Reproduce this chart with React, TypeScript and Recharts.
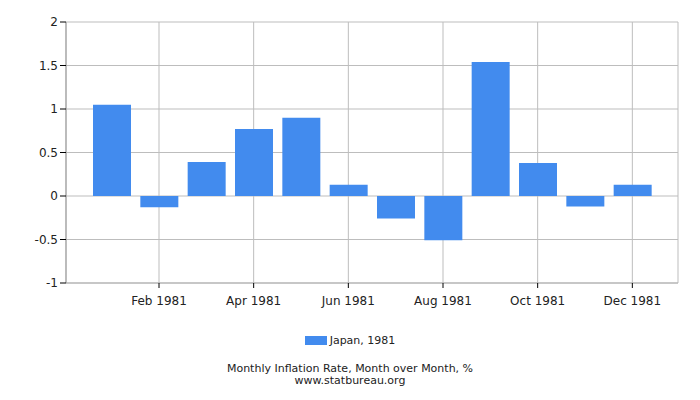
import { BarChart, Bar, XAxis, YAxis, CartesianGrid, Legend } from "recharts";

const months = [
  "Jan 1981", "Feb 1981", "Mar 1981", "Apr 1981", "May 1981", "Jun 1981",
  "Jul 1981", "Aug 1981", "Sep 1981", "Oct 1981", "Nov 1981", "Dec 1981",
];
const japan = [1.05, -0.13, 0.39, 0.77, 0.9, 0.13, -0.26, -0.51, 1.54, 0.38, -0.12, 0.13];
const xTicks = ["Feb 1981", "Apr 1981", "Jun 1981", "Aug 1981", "Oct 1981", "Dec 1981"];
const yTicks = [-1, -0.5, 0, 0.5, 1, 1.5, 2];

const FONT = "'DejaVu Sans', Verdana, sans-serif";
const BLUE = "#428bee";

const LegendBox = () => (
  <div style={{ display: "flex", justifyContent: "center", alignItems: "center", fontSize: 11, color: "#222" }}>
    <span style={{ display: "inline-block", width: 22, height: 9, background: BLUE, marginRight: 3 }} />
    <span>Japan, 1981</span>
  </div>
);

export default function App() {
  const data = months.map((m, i) => ({ month: m, value: japan[i] }));

  return (
    <div style={{ position: "absolute", left: 0, top: 0, width: 700, height: 400, background: "#fff", fontFamily: FONT }}>
      <BarChart
        width={700}
        height={400}
        data={data}
        margin={{ top: 22, right: 22, bottom: 87, left: 10 }}
        style={{ fontFamily: FONT }}
      >
        <CartesianGrid stroke="#bdbdbd" strokeWidth={1} />
        <XAxis
          dataKey="month"
          ticks={xTicks}
          interval={0}
          height={30}
          padding={{ left: 22, right: 22 }}
          tick={{ fill: "#222", fontSize: 12 }}
          tickSize={5}
          tickMargin={8}
          axisLine={{ stroke: "#b0b0b0" }}
          tickLine={{ stroke: "#000" }}
        />
        <YAxis
          domain={[-1, 2]}
          ticks={yTicks}
          width={56}
          tick={{ fill: "#222", fontSize: 12 }}
          tickSize={6}
          tickMargin={2}
          axisLine={{ stroke: "#999" }}
          tickLine={{ stroke: "#000" }}
        />
        <YAxis
          yAxisId="r"
          orientation="right"
          domain={[-1, 2]}
          width={0}
          tick={false}
          tickLine={false}
          axisLine={{ stroke: "#c8c8c8" }}
        />
        <Bar dataKey="value" fill={BLUE} barSize={38} isAnimationActive={false} />
        <Legend
          content={<LegendBox />}
          layout="horizontal"
          verticalAlign="middle"
          wrapperStyle={{ top: 334, left: 0, width: 700 }}
        />
      </BarChart>
      <div
        style={{
          position: "absolute",
          left: 0,
          top: 363,
          width: 700,
          textAlign: "center",
          fontSize: 11,
          lineHeight: "12px",
          color: "#222",
        }}
      >
        <div>Monthly Inflation Rate, Month over Month, %</div>
        <div>www.statbureau.org</div>
      </div>
    </div>
  );
}
